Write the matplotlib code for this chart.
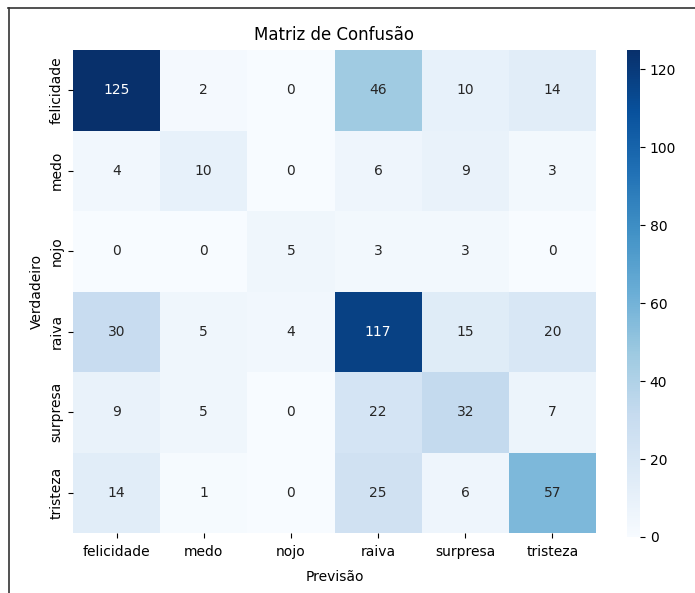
import matplotlib
matplotlib.use("Agg")
import matplotlib.pyplot as plt
import seaborn as sns
import numpy as np
from matplotlib.lines import Line2D

labels = ["felicidade", "medo", "nojo", "raiva", "surpresa", "tristeza"]
row_felicidade = [125, 2, 0, 46, 10, 14]
row_medo = [4, 10, 0, 6, 9, 3]
row_nojo = [0, 0, 5, 3, 3, 0]
row_raiva = [30, 5, 4, 117, 15, 20]
row_surpresa = [9, 5, 0, 22, 32, 7]
row_tristeza = [14, 1, 0, 25, 6, 57]

cm = np.array([row_felicidade, row_medo, row_nojo, row_raiva, row_surpresa, row_tristeza])

W, H = 695, 593
fig = plt.figure(figsize=(W / 100, H / 100), dpi=100)
ax = fig.add_axes([73 / W, 1 - 533 / H, (596 - 73) / W, (533 - 50) / H])
cax = fig.add_axes([627 / W, 1 - 537 / H, 13 / W, (537 - 50) / H])

sns.heatmap(cm, annot=True, fmt="d", cmap="Blues", xticklabels=labels,
            yticklabels=labels, ax=ax, cbar_ax=cax)
ax.set_title("Matriz de Confusão", fontsize=12, pad=7)
ax.set_xlabel("Previsão", labelpad=8)
ax.set_ylabel("Verdadeiro")
ax.tick_params(axis="x", pad=5)

# screenshot frame
fig.add_artist(Line2D([8 / W, 1], [1 - 8 / H, 1 - 8 / H], color="#333333", lw=1.2,
                      transform=fig.transFigure))
fig.add_artist(Line2D([9 / W, 9 / W], [0, 1 - 8 / H], color="#333333", lw=1.2,
                      transform=fig.transFigure))

fig.savefig("out.png", dpi=100)
